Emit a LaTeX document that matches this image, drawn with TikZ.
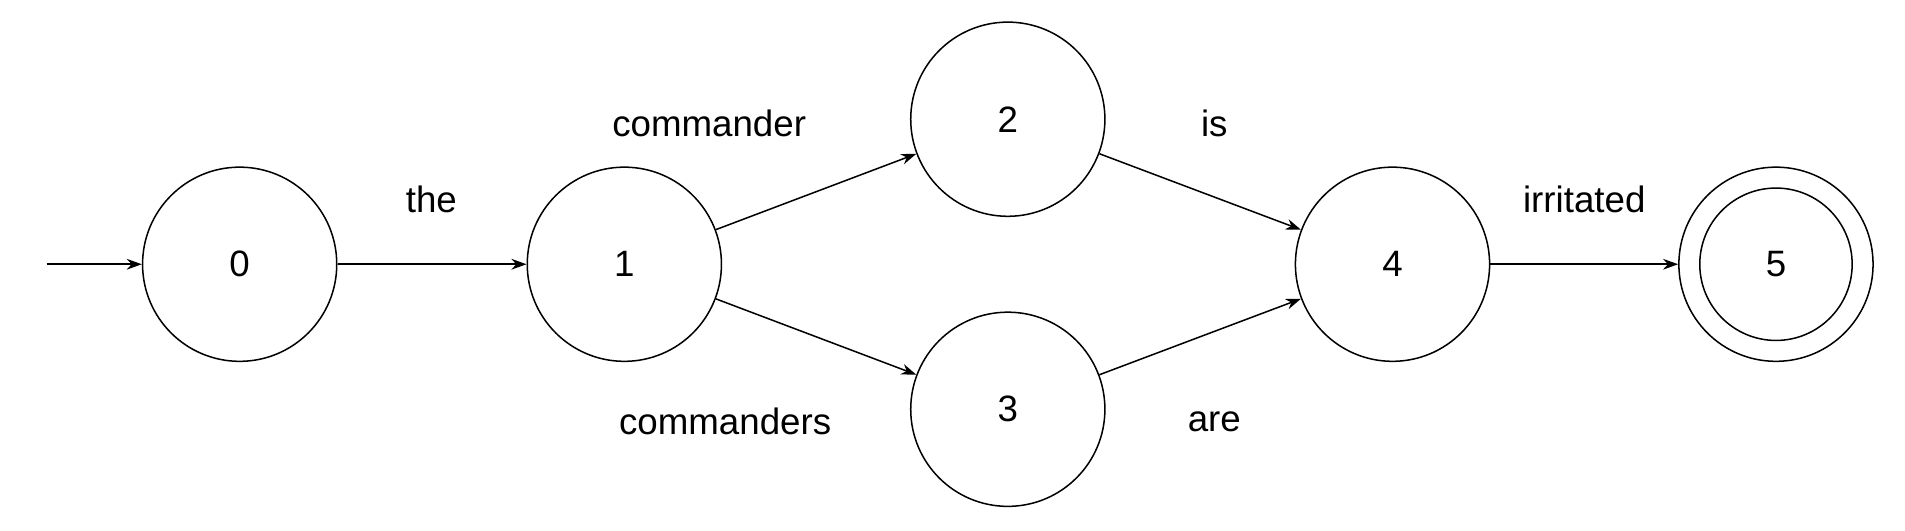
\documentclass[tikz,border=0pt]{standalone}
\usepackage{fontspec}
\setmainfont{Liberation Sans}
\usetikzlibrary{arrows.meta}

\begin{document}
\begin{tikzpicture}[x=0.02cm,y=-0.02cm,
	state/.style={draw,circle,minimum size=158*0.02cm,inner sep=0pt,line width=0.7pt},
	accept/.style={state,double=white,double distance=9.5pt},
	edge/.style={-{Stealth[length=7pt,width=5pt]},line width=0.7pt},
	lbl/.style={font=\fontsize{17}{20}\selectfont}]
	\useasboundingbox (0,0) rectangle (1550,432);
	\node[state] (s0) at (195,215) {\fontsize{17}{20}\selectfont 0};
	\node[state] (s1) at (508,215) {\fontsize{17}{20}\selectfont 1};
	\node[state] (s2) at (820,97) {\fontsize{17}{20}\selectfont 2};
	\node[state] (s3) at (820,333) {\fontsize{17}{20}\selectfont 3};
	\node[state] (s4) at (1133,215) {\fontsize{17}{20}\selectfont 4};
	\node[state,minimum size=124*0.02cm] (s5i) at (1445,215) {\fontsize{17}{20}\selectfont 5};
	\node[state] (s5) at (1445,215) {};
	\coordinate (start) at (38,215);
	
	\draw[edge] (start) -- (s0);
	\draw[edge] (s0) -- (s1);
	\draw[edge] (s1) -- (s2);
	\draw[edge] (s1) -- (s3);
	\draw[edge] (s2) -- (s4);
	\draw[edge] (s3) -- (s4);
	\draw[edge] (s4) -- (s5);
	
	\node[lbl] (lthe) at (351,162) {the};
	\node[lbl] (lcommander) at (577,100) {commander};
	\node[lbl] (lcommanders) at (590,343) {commanders};
	\node[lbl] (lis) at (988,100) {is};
	\node[lbl] (lare) at (988,343) {are};
	\node[lbl] (lirritated) at (1289,162) {irritated};
\end{tikzpicture}
\end{document}
